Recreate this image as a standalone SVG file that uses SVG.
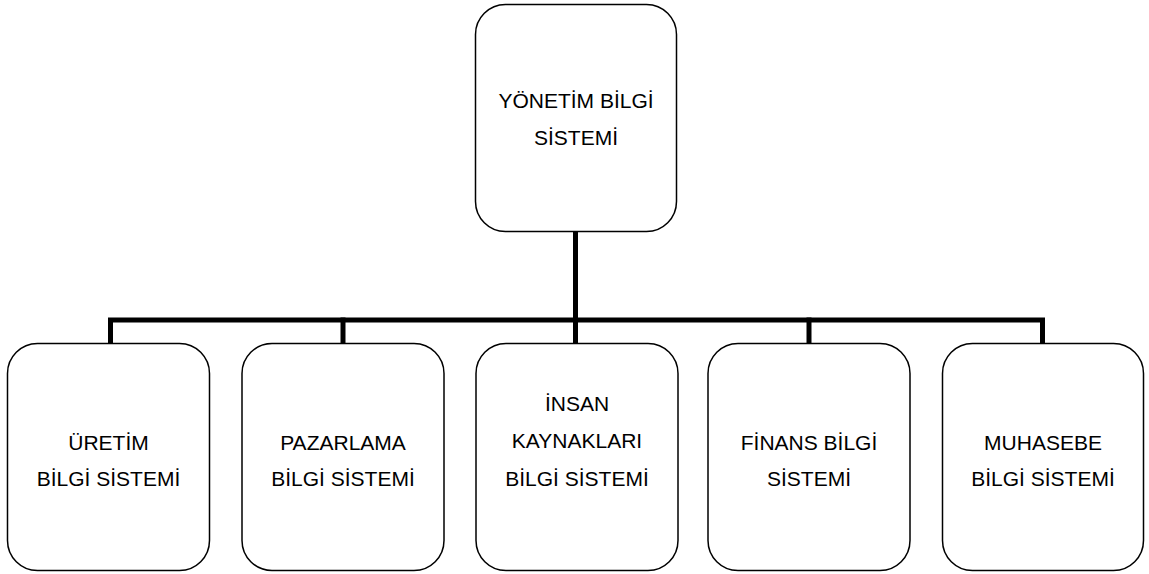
<svg xmlns="http://www.w3.org/2000/svg" width="1149" height="574" viewBox="0 0 1149 574">
<style>
.box{fill:#fff;stroke:#000;stroke-width:1.5}
.lbl{font-family:"Liberation Sans",Arial,sans-serif;font-size:21px;fill:#000;text-anchor:middle}
.conn{stroke:#000;stroke-width:5;fill:none;stroke-linecap:square}
</style>
<rect width="1149" height="574" fill="#fff"/>
<g id="connectors">
<path class="conn" d="M575.5 232 V342"/>
<path class="conn" d="M110.5 342 V320 H1042.5 V342"/>
<path class="conn" d="M343 320 V342"/>
<path class="conn" d="M809 320 V342"/>
</g>
<g id="n-yonetim">
<rect class="box" x="475.5" y="4.5" width="201" height="227" rx="30"/>
<text class="lbl" x="576" y="107.5">YÖNETİM BİLGİ</text>
<text class="lbl" x="576" y="144.5">SİSTEMİ</text>
</g>
<g id="n-uretim">
<rect class="box" x="7.5" y="343.5" width="202" height="227" rx="30"/>
<text class="lbl" x="108.5" y="449.5">ÜRETİM</text>
<text class="lbl" x="108.5" y="485.5">BİLGİ SİSTEMİ</text>
</g>
<g id="n-pazarlama">
<rect class="box" x="242" y="343.5" width="202" height="227" rx="30"/>
<text class="lbl" x="343" y="449.5">PAZARLAMA</text>
<text class="lbl" x="343" y="485.5">BİLGİ SİSTEMİ</text>
</g>
<g id="n-insan">
<rect class="box" x="476" y="343.5" width="202" height="227" rx="30"/>
<text class="lbl" x="577" y="411">İNSAN</text>
<text class="lbl" x="577" y="448">KAYNAKLARI</text>
<text class="lbl" x="577" y="485.5">BİLGİ SİSTEMİ</text>
</g>
<g id="n-finans">
<rect class="box" x="708" y="343.5" width="202" height="227" rx="30"/>
<text class="lbl" x="809" y="449.5">FİNANS BİLGİ</text>
<text class="lbl" x="809" y="485.5">SİSTEMİ</text>
</g>
<g id="n-muhasebe">
<rect class="box" x="942.5" y="343.5" width="201" height="227" rx="30"/>
<text class="lbl" x="1043" y="449.5">MUHASEBE</text>
<text class="lbl" x="1043" y="485.5">BİLGİ SİSTEMİ</text>
</g>
</svg>
